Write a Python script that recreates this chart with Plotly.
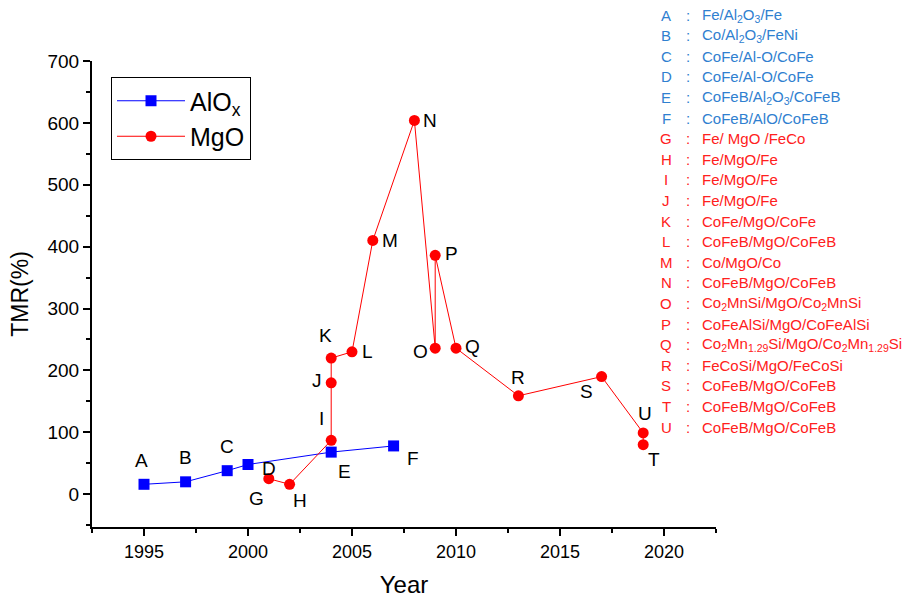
import plotly.graph_objects as go

# ---- data ----
alox_labels = ["A", "B", "C", "D", "E", "F"]
alox_years = [1995, 1997, 1999, 2000, 2004, 2007]
alox_tmr = [16, 20, 38, 48, 68, 78]

mgo_labels = ["G", "H", "I", "J", "K", "L", "M", "N", "O", "P", "Q", "R", "S", "U", "T"]
mgo_years = [2001, 2002, 2004, 2004, 2004, 2005, 2006, 2008, 2009, 2009, 2010, 2013, 2017, 2019, 2019]
mgo_tmr = [25, 16, 87, 180, 220, 230, 410, 604, 236, 386, 236, 159, 190, 99, 80]

key_letters = list("ABCDEFGHIJKLMNOPQRSTU")
key_stacks = [
    "Fe/Al<sub>2</sub>O<sub>3</sub>/Fe",
    "Co/Al<sub>2</sub>O<sub>3</sub>/FeNi",
    "CoFe/Al-O/CoFe",
    "CoFe/Al-O/CoFe",
    "CoFeB/Al<sub>2</sub>O<sub>3</sub>/CoFeB",
    "CoFeB/AlO/CoFeB",
    "Fe/ MgO /FeCo",
    "Fe/MgO/Fe",
    "Fe/MgO/Fe",
    "Fe/MgO/Fe",
    "CoFe/MgO/CoFe",
    "CoFeB/MgO/CoFeB",
    "Co/MgO/Co",
    "CoFeB/MgO/CoFeB",
    "Co<sub>2</sub>MnSi/MgO/Co<sub>2</sub>MnSi",
    "CoFeAlSi/MgO/CoFeAlSi",
    "Co<sub>2</sub>Mn<sub>1.29</sub>Si/MgO/Co<sub>2</sub>Mn<sub>1.29</sub>Si",
    "FeCoSi/MgO/FeCoSi",
    "CoFeB/MgO/CoFeB",
    "CoFeB/MgO/CoFeB",
    "CoFeB/MgO/CoFeB",
]

x_ticks = [1995, 2000, 2005, 2010, 2015, 2020]
y_ticks = [0, 100, 200, 300, 400, 500, 600, 700]

# ---- styling ----
BLUE = "#0000ff"
RED = "#ff0000"
KEY_BLUE = "#2f80d0"
KEY_RED = "#ff2020"
FONT = "Liberation Sans, Arial, sans-serif"

# label offsets in pixels (dx, dy) relative to each point (dy positive = up)
offsets = {
    "A": (-3, 24), "B": (0, 24), "C": (0, 24), "D": (21, -4), "E": (13, -19),
    "F": (19, -13), "G": (-12, -20), "H": (10, -16), "I": (-10, 22), "J": (-14, 2),
    "K": (-6, 23), "L": (15, 0), "M": (17, 0), "N": (16, 0), "O": (-15, -3),
    "P": (16, 2), "Q": (16, 2), "R": (0, 18), "S": (-15, -15), "T": (11, -15),
    "U": (2, 19),
}

L, R, T, B = 92, 190, 61, 71
pw, ph = 906 - L - R, 598 - T - B


def px_to_paper(xpix, ypix):
    return (xpix - L) / pw, 1 - (ypix - T) / ph


fig = go.Figure()
fig.add_trace(go.Scatter(
    x=alox_years, y=alox_tmr, mode="lines+markers", name="AlO<sub>x</sub>",
    line=dict(color=BLUE, width=1),
    marker=dict(symbol="square", size=11, color=BLUE),
))
fig.add_trace(go.Scatter(
    x=mgo_years, y=mgo_tmr, mode="lines+markers", name="MgO",
    line=dict(color=RED, width=1),
    marker=dict(symbol="circle", size=11, color=RED),
))

annotations = []
for labs, xs, ys in [(alox_labels, alox_years, alox_tmr), (mgo_labels, mgo_years, mgo_tmr)]:
    for lab, xv, yv in zip(labs, xs, ys):
        dx, dy = offsets[lab]
        annotations.append(dict(
            x=xv, y=yv, xref="x", yref="y", text=lab, showarrow=False,
            xshift=dx, yshift=dy, font=dict(family=FONT, size=19, color="black"),
        ))

# key list on the right
row_h = 20.6
for i, (letter, stack) in enumerate(zip(key_letters, key_stacks)):
    col = KEY_BLUE if i < 6 else KEY_RED
    ypix = 15 + i * row_h
    for xpix, txt, anchor in [(666, letter, "center"), (688, ":", "center"), (700, stack, "left")]:
        px, py = px_to_paper(xpix, ypix)
        annotations.append(dict(
            x=px, y=py, xref="paper", yref="paper",
            text=txt, showarrow=False, xanchor=anchor, yanchor="middle",
            font=dict(family=FONT, size=15, color=col),
        ))

lx, ly = px_to_paper(111, 77)
fig.update_layout(
    width=906, height=598,
    margin=dict(l=L, r=R, t=T, b=B),
    paper_bgcolor="white", plot_bgcolor="white",
    font=dict(family=FONT, color="black"),
    showlegend=True,
    legend=dict(
        x=lx, y=ly, xanchor="left", yanchor="top",
        bordercolor="black", borderwidth=1, bgcolor="white",
        font=dict(family=FONT, size=25, color="black"),
        itemwidth=68, tracegroupgap=0,
    ),
    annotations=annotations,
    xaxis=dict(
        range=[1992.5, 2022.5], tickmode="array", tickvals=x_ticks,
        ticks="outside", ticklen=7, tickwidth=2, tickcolor="black",
        showline=True, linecolor="black", linewidth=2, mirror=False,
        showgrid=False, zeroline=False, automargin=False,
        tickfont=dict(family=FONT, size=18, color="black"),
        title=dict(text="Year", font=dict(family=FONT, size=24, color="black"), standoff=22),
        minor=dict(tickmode="linear", tick0=1992.5, dtick=5, ticks="outside",
                   ticklen=4, tickwidth=2, tickcolor="black", showgrid=False),
    ),
    yaxis=dict(
        range=[-53, 700], tickmode="array", tickvals=y_ticks,
        ticks="outside", ticklen=7, tickwidth=2, tickcolor="black",
        showline=True, linecolor="black", linewidth=2, mirror=False,
        showgrid=False, zeroline=False, automargin=False,
        tickfont=dict(family=FONT, size=19, color="black"),
        title=dict(text="TMR(%)", font=dict(family=FONT, size=23, color="black"), standoff=12),
        minor=dict(tickmode="linear", tick0=50, dtick=100, ticks="outside",
                   ticklen=4, tickwidth=2, tickcolor="black", showgrid=False),
    ),
)

fig.write_html("out.html")
